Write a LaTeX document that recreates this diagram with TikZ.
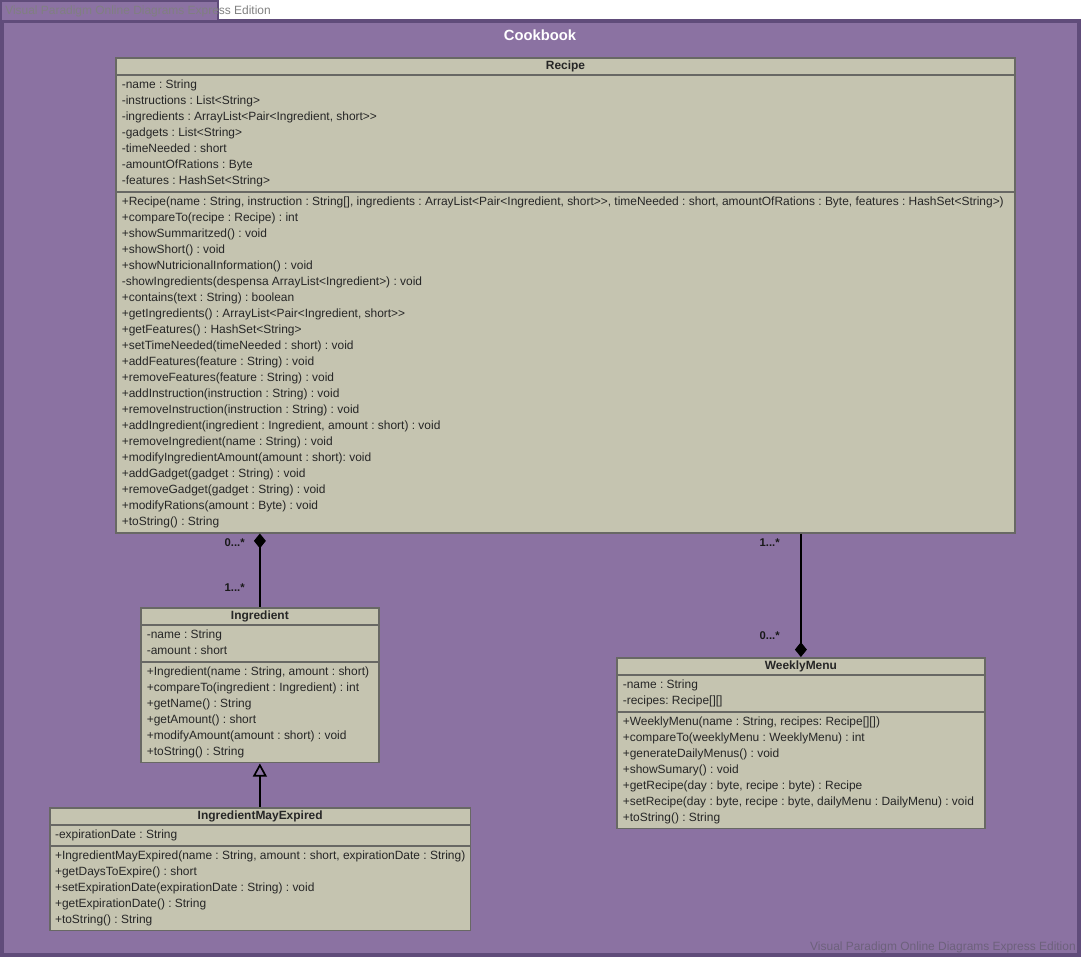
\documentclass[tikz,border=0pt]{standalone}
\usepackage{fontspec}
\setmainfont{Liberation Sans}
\usepackage{tikz}
\usetikzlibrary{arrows.meta,positioning,shapes.multipart}
\definecolor{pkgfill}{RGB}{139,114,162}
\definecolor{pkgline}{RGB}{96,76,122}
\definecolor{classfill}{RGB}{197,196,176}
\definecolor{classline}{RGB}{104,104,100}
\definecolor{wmark}{RGB}{128,128,128}
\newcommand{\clsfont}{\fontsize{8.5}{11.38}\selectfont\frenchspacing}
\newcommand{\dgt}{>\kern0pt>}
\newcommand{\hstrut}{\rule[-2pt]{0pt}{8.6pt}}
\tikzset{
  umlclass/.style={rectangle split,rectangle split parts=3,
    rectangle split part align={center,left,left},draw=classline,fill=classfill,
    line width=1.2pt,anchor=north west,align=left,font=\clsfont,text=black!85,
    inner xsep=0.15cm,inner ysep=0.04cm},
  mult/.style={font=\fontsize{8}{9}\selectfont\bfseries,text=black!90,inner sep=0pt},
  link/.style={line width=1.2pt},
  compose/.style={link,{Diamond[length=3.7mm,width=3mm]}-},
  composeend/.style={link,-{Diamond[length=3.7mm,width=3mm]}},
  inherit/.style={link,-{Triangle[open,length=3.3mm,width=3.5mm]}},
  wmtext/.style={font=\fontsize{8.5}{10}\selectfont,inner sep=0pt},
}

\begin{document}
\begin{tikzpicture}[x=0.025cm,y=-0.025cm]
\useasboundingbox (0,0) rectangle (1082,958);
% package frame
\draw[pkgline,fill=pkgfill,line width=2.2pt] (2,21) rectangle (1079,955);
\draw[pkgline,fill=pkgfill,line width=1.8pt] (1,1) rectangle (218,21);
\node[font=\fontsize{10.5}{12}\selectfont\bfseries,text=white] (title) at (540,35) {Cookbook};

% classes
\node[umlclass,minimum width=22.475cm] (recipe) at (115,57)
  {\hstrut\textbf{Recipe}
   \nodepart{second}\strut-name : String\\
   -instructions : List<String>\\
   -ingredients : ArrayList<Pair<Ingredient, short\dgt\\
   -gadgets : List<String>\\
   -timeNeeded : short\\
   -amountOfRations : Byte\\
   -features : HashSet<String>\strut
   \nodepart{third}\strut+Recipe(name : String, instruction : String[], ingredients : ArrayList<Pair<Ingredient, short\dgt, timeNeeded : short, amountOfRations : Byte, features : HashSet<String>)\\
   +compareTo(recipe : Recipe) : int\\
   +showSummaritzed() : void\\
   +showShort() : void\\
   +showNutricionalInformation() : void\\
   -showIngredients(despensa ArrayList<Ingredient>) : void\\
   +contains(text : String) : boolean\\
   +getIngredients() : ArrayList<Pair<Ingredient, short\dgt\\
   +getFeatures() : HashSet<String>\\
   +setTimeNeeded(timeNeeded : short) : void\\
   +addFeatures(feature : String) : void\\
   +removeFeatures(feature : String) : void\\
   +addInstruction(instruction : String) : void\\
   +removeInstruction(instruction : String) : void\\
   +addIngredient(ingredient : Ingredient, amount : short) : void\\
   +removeIngredient(name : String) : void\\
   +modifyIngredientAmount(amount : short): void\\
   +addGadget(gadget : String) : void\\
   +removeGadget(gadget : String) : void\\
   +modifyRations(amount : Byte) : void\\
   +toString() : String\strut};

\node[umlclass,minimum width=5.95cm] (ingr) at (140,607)
  {\hstrut\textbf{Ingredient}
   \nodepart{second}\strut-name : String\\
   -amount : short\strut
   \nodepart{third}\strut+Ingredient(name : String, amount : short)\\
   +compareTo(ingredient : Ingredient) : int\\
   +getName() : String\\
   +getAmount() : short\\
   +modifyAmount(amount : short) : void\\
   +toString() : String\strut};

\node[umlclass,minimum width=10.5cm,inner xsep=0.13cm] (expired) at (49,807)
  {\hstrut\textbf{IngredientMayExpired}
   \nodepart{second}\strut-expirationDate : String\strut
   \nodepart{third}\strut+IngredientMayExpired(name : String, amount : short, expirationDate : String)\\
   +getDaysToExpire() : short\\
   +setExpirationDate(expirationDate : String) : void\\
   +getExpirationDate() : String\\
   +toString() : String\strut};

\node[umlclass,minimum width=9.2cm] (menu) at (616,657)
  {\hstrut\textbf{WeeklyMenu}
   \nodepart{second}\strut-name : String\\
   -recipes: Recipe[][]\strut
   \nodepart{third}\strut+WeeklyMenu(name : String, recipes: Recipe[][])\\
   +compareTo(weeklyMenu : WeeklyMenu) : int\\
   +generateDailyMenus() : void\\
   +showSumary() : void\\
   +getRecipe(day : byte, recipe : byte) : Recipe\\
   +setRecipe(day : byte, recipe : byte, dailyMenu : DailyMenu) : void\\
   +toString() : String\strut};

% associations
\draw[compose] (ingr.north |- recipe.south) -- (ingr.north);
\draw[composeend] (menu.north |- recipe.south) -- (menu.north);
\draw[inherit] (ingr.south |- expired.north) -- (ingr.south);

% multiplicities
\node[mult,anchor=east] (m1) at (245,543) {0...*};
\node[mult,anchor=east] (m2) at (245,588) {1...*};
\node[mult,anchor=east] (m3) at (780,543) {1...*};
\node[mult,anchor=east] (m4) at (780,636) {0...*};

% watermarks
\node[wmtext,text=wmark,anchor=west] (wm1) at (5,11) {Visual Paradigm Online Diagrams Express Edition};
\node[wmtext,text=pkgline!60!gray,anchor=east] (wm2) at (1076,947) {Visual Paradigm Online Diagrams Express Edition};
\end{tikzpicture}
\end{document}
